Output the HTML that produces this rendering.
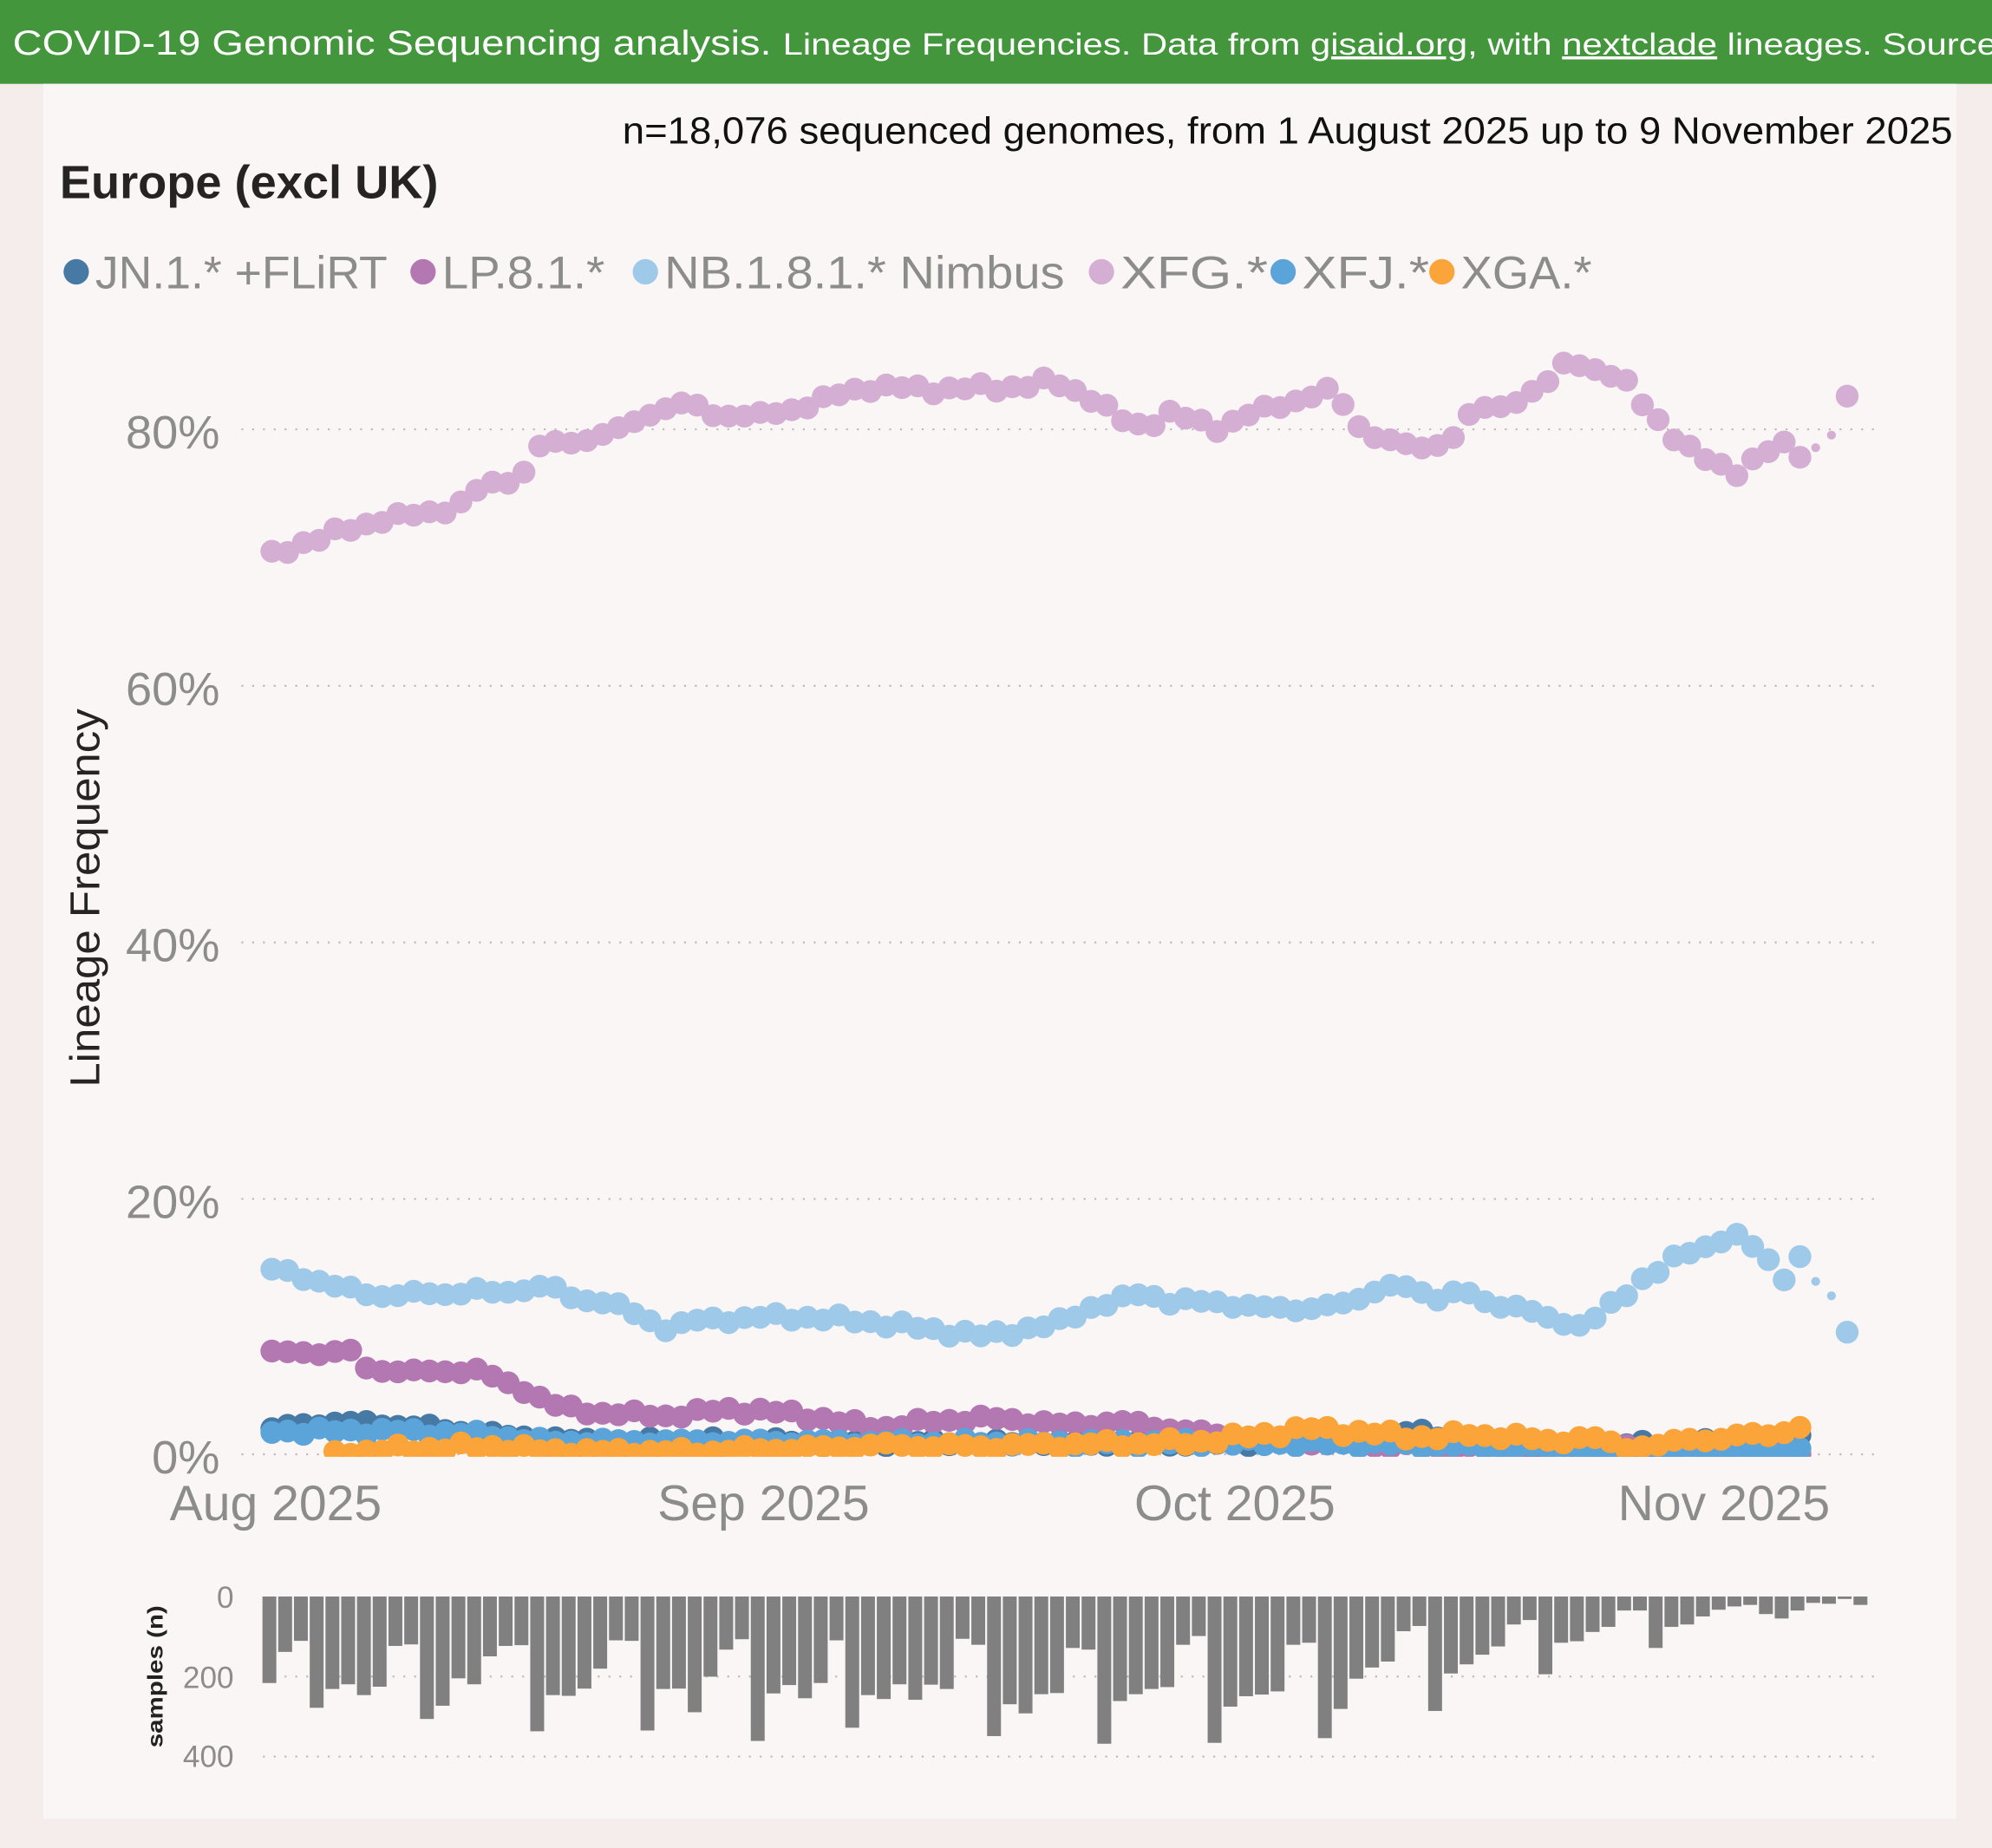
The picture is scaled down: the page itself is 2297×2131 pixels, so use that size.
<!DOCTYPE html>
<html><head><meta charset="utf-8"><style>
html,body{margin:0;padding:0;background:#f5ecec}
svg{display:block}
text{font-family:"Liberation Sans","DejaVu Sans",sans-serif}
</style></head><body>
<svg id="s" width="2297" height="2131" viewBox="0 0 1568 1455" preserveAspectRatio="none" xmlns="http://www.w3.org/2000/svg">
<rect x="0" y="0" width="1568" height="1455" fill="#f5ecec"/>
<rect x="0" y="0" width="1568" height="66" fill="#43963b"/>
<text x="10" y="43" fill="#fff" font-size="27" textLength="1562" lengthAdjust="spacingAndGlyphs">COVID-19 Genomic Sequencing analysis. <tspan font-size="24">Lineage Frequencies. Data from <tspan text-decoration="underline">gisaid.org</tspan>, with <tspan text-decoration="underline">nextclade</tspan> lineages. Source</tspan></text>
<rect x="34" y="66" width="1506" height="1366" fill="#f9f6f5"/>
<text x="1537" y="113" text-anchor="end" font-size="30" fill="#111" textLength="1047" lengthAdjust="spacingAndGlyphs">n=18,076 sequenced genomes, from 1 August 2025 up to 9 November 2025</text>
<text x="47" y="156" font-size="37" fill="#252423" font-weight="bold" textLength="298" lengthAdjust="spacingAndGlyphs">Europe (excl UK)</text>
<g font-size="36" fill="#8c8c8c">
<circle cx="60" cy="214" r="10" fill="#4679a4"/><text x="75" y="227" textLength="230" lengthAdjust="spacingAndGlyphs">JN.1.* +FLiRT</text>
<circle cx="333" cy="214" r="10" fill="#b377b1"/><text x="348" y="227" textLength="128" lengthAdjust="spacingAndGlyphs">LP.8.1.*</text>
<circle cx="508" cy="214" r="10" fill="#9fc9e8"/><text x="523" y="227" textLength="315" lengthAdjust="spacingAndGlyphs">NB.1.8.1.* Nimbus</text>
<circle cx="867" cy="214" r="10" fill="#d4aed3"/><text x="882" y="227" textLength="116" lengthAdjust="spacingAndGlyphs">XFG.*</text>
<circle cx="1010" cy="214" r="10" fill="#5ba4d9"/><text x="1025" y="227" textLength="100" lengthAdjust="spacingAndGlyphs">XFJ.*</text>
<circle cx="1135" cy="214" r="10" fill="#faa43a"/><text x="1150" y="227" textLength="103" lengthAdjust="spacingAndGlyphs">XGA.*</text>
</g>
<g stroke="#bbb" stroke-width="1.5" stroke-dasharray="1.5 7">
<line x1="190" y1="338" x2="1475" y2="338"/><line x1="190" y1="540" x2="1475" y2="540"/>
<line x1="190" y1="742" x2="1475" y2="742"/><line x1="190" y1="944" x2="1475" y2="944"/>
<line x1="190" y1="1145" x2="1475" y2="1145"/>
<line x1="207" y1="1320" x2="1475" y2="1320"/><line x1="207" y1="1383" x2="1475" y2="1383"/>
</g>
<g font-size="37" fill="#8c8c8c" text-anchor="end">
<text x="173" y="353">80%</text><text x="173" y="555">60%</text><text x="173" y="757">40%</text>
<text x="173" y="959">20%</text><text x="173" y="1160">0%</text>
</g>
<text transform="translate(78 707) rotate(-90)" text-anchor="middle" font-size="33" fill="#252423" textLength="298" lengthAdjust="spacingAndGlyphs">Lineage Frequency</text>
<g font-size="39" fill="#8c8c8c" text-anchor="middle">
<text x="217" y="1197">Aug 2025</text><text x="601" y="1197">Sep 2025</text>
<text x="972" y="1197">Oct 2025</text><text x="1357" y="1197">Nov 2025</text>
</g>
<g font-size="24" fill="#8c8c8c" text-anchor="end">
<text x="184" y="1266">0</text><text x="184" y="1329">200</text><text x="184" y="1391">400</text>
</g>
<text transform="translate(128 1320) rotate(-90)" text-anchor="middle" font-size="17" font-weight="bold" fill="#222" textLength="112" lengthAdjust="spacingAndGlyphs">samples (n)</text>
<g id="bars" fill="#808080"></g>
<defs><clipPath id="cp"><rect x="180" y="240" width="1320" height="907"/></clipPath></defs>
<g id="pts" clip-path="url(#cp)"></g>
</svg>
<script>
var NS="http://www.w3.org/2000/svg";
var bars=[217,139,111,279,232,220,247,226,124,120,307,274,205,220,150,124,122,338,247,249,231,181,110,111,336,232,231,290,201,133,107,362,243,222,255,217,110,329,247,257,220,259,221,232,106,121,350,270,293,245,242,129,133,369,262,245,232,227,121,99,367,276,250,246,238,121,116,355,282,206,178,163,87,74,287,193,170,146,125,70,59,195,116,112,89,76,35,35,129,76,70,50,33,25,21,44,55,35,16,18,6,21];
var bg=document.getElementById('bars');
for(var i=0;i<bars.length;i++){var r=document.createElementNS(NS,'rect');var cx=212+12.4*i;
r.setAttribute('x',(cx-5.4).toFixed(1));r.setAttribute('y',1257);r.setAttribute('width',10.9);r.setAttribute('height',(bars[i]*0.314).toFixed(1));bg.appendChild(r);}
function interp(k,d){if(d<=k[0][0])return k[0][1];for(var j=1;j<k.length;j++){if(d<=k[j][0]){var a=k[j-1],b=k[j];return a[1]+(b[1]-a[1])*(d-a[0])/(b[0]-a[0]);}}return k[k.length-1][1];}
var series=[
{c:"#4679a4",s:0,e:97,k:[[0,2],[4,2.5],[9,2.2],[13,1.6],[16,1.3],[20,1],[27,1],[60,0.8],[70,1.2],[72,1.8],[76,1],[80,0.7],[90,0.8],[95,1.2],[97,1.5]],j:0.3},
{c:"#b377b1",s:0,e:97,k:[[0,7.9],[5,8],[5.5,6.7],[10,6.4],[13,6.6],[14.5,5.7],[16.5,4.8],[18,3.8],[20,3.3],[25,3],[29,3.5],[33,3.2],[36,2.5],[39,2.1],[42,2.6],[46,2.8],[50,2.3],[54,2.5],[60,1.5],[67,0.8],[75,0.5],[97,0.3]],j:0.3},
{c:"#9fc9e8",s:0,e:100,k:[[0,14.4],[2,13.9],[4.5,12.9],[7,12.4],[11.8,12.6],[13,12.8],[14,12.5],[17.4,13.2],[19,12.2],[21.5,11.9],[23,10.9],[25,9.9],[27,10.4],[31,10.7],[34,10.7],[37.6,10.4],[40.8,9.9],[44,9.4],[45.2,9.2],[47,9.6],[49.7,10.1],[51.7,11.4],[53.7,11.9],[55.3,12.7],[57,11.9],[60,11.9],[62.6,11.4],[66,11.4],[68.2,11.7],[70.6,13.2],[72.2,12.9],[73.9,12.2],[75.5,12.9],[77,11.7],[79.5,11.6],[81,10.4],[83,10.1],[84.8,11.4],[86,12.4],[87.2,13.9],[89.2,15.4],[91.2,16.1],[92.4,17.3],[93.6,16.8],[94.8,15.1],[96,13.9],[97,15.4],[98,13.6],[98.8,12.4],[99.6,10.9],[100,9.7]],j:0.35},
{c:"#d4aed3",s:0,e:100,k:[[0,70.1],[2.1,71.2],[4.5,72],[7,73],[9.4,73.3],[11.8,74],[13.4,75.5],[15.8,76.3],[17,78.6],[19.8,79.2],[22.3,80],[24.3,81.5],[26.3,82],[27.9,81.2],[31.1,81],[34.4,82],[37.6,83.3],[42.4,83.1],[47.3,83.3],[49.7,83.7],[52.1,82.4],[53.7,80.8],[55.3,80.2],[56.9,81.2],[60.2,80.1],[61.8,81],[64.2,82],[67.4,83],[69,80.3],[70.6,79],[73,78.6],[75.1,79.3],[76.3,81.5],[79.5,82.3],[81.1,83.7],[82.3,85.7],[84.4,84.2],[86,83.7],[87.6,81.3],[89.2,78.8],[91.6,77.6],[93.2,76.3],[94.8,78.3],[96.5,79.3],[97.3,77.3],[98.9,79.3],[100,82.5]],j:0.4},
{c:"#5ba4d9",s:0,e:97,k:[[0,1.8],[8,1.8],[14,1.5],[17,1],[30,1],[45,0.9],[60,0.9],[70,0.8],[80,0.5],[88,0.2],[97,0.3]],j:0.3},
{c:"#faa43a",s:4,e:97,k:[[4,0],[6,0.2],[8,0.4],[14,0.6],[17,0.3],[20,0.2],[27,0.2],[31,0.4],[35,0.5],[38,0.7],[45,0.6],[52,0.8],[58,0.9],[62,1.4],[66,2],[70,1.6],[74,1.3],[76,1.6],[78,1.4],[81,1.1],[84,1.2],[86,0.6],[88,0.6],[90,1.3],[92,1.1],[94,1.6],[96,1.7],[97,2]],j:0.35}
];
var pg=document.getElementById('pts');
series.forEach(function(sr,si){for(var d=sr.s;d<=sr.e;d++){var v=interp(sr.k,d)+sr.j*Math.sin(d*2.3+si*1.7)*Math.cos(d*0.9+si);
if(v<0)v=0;var c=document.createElementNS(NS,'circle');var r=9;
if((si==2||si==3)&&d>=98&&d<=99)r=3.5;
c.setAttribute('cx',(214+12.4*d).toFixed(1));c.setAttribute('cy',(1145-v*10.09).toFixed(1));c.setAttribute('r',r);c.setAttribute('fill',sr.c);pg.appendChild(c);}});
</script>
</body></html>
